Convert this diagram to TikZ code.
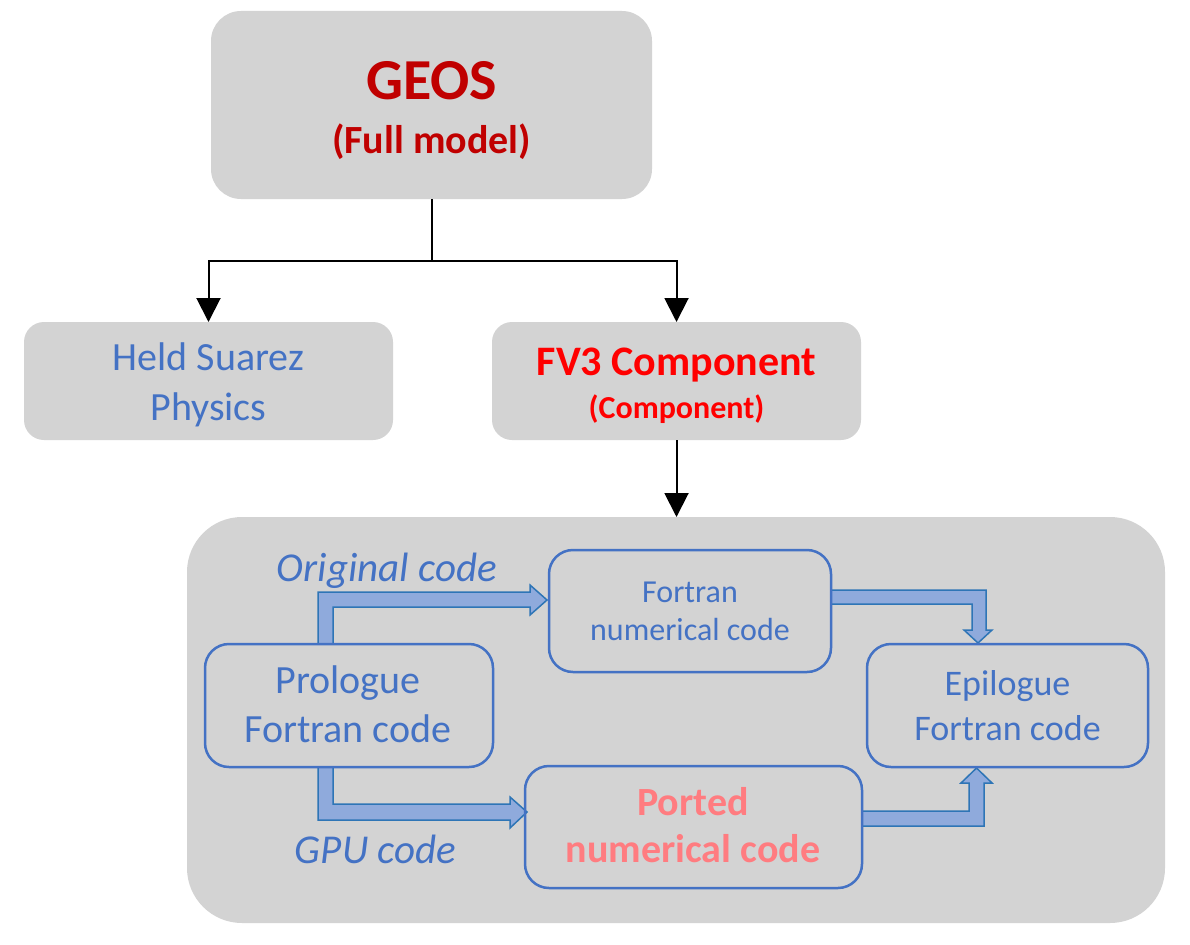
\documentclass[tikz,border=0pt]{standalone}
\usepackage{fontspec}
\setmainfont{Carlito}
\usetikzlibrary{arrows.meta,calc}
\definecolor{boxgray}{HTML}{D3D3D3}
\definecolor{txtblue}{HTML}{4472C4}
\definecolor{arrfill}{HTML}{8FAADC}
\definecolor{arrline}{HTML}{2E75B6}
\definecolor{geosred}{HTML}{C00000}
\definecolor{fvred}{HTML}{FF0000}
\definecolor{portred}{HTML}{FF7C80}
\begin{document}
\begin{tikzpicture}[x=1pt,y=-1pt,
  graybox/.style={fill=boxgray, draw=none, inner sep=0pt, outer sep=0pt},
  codebox/.style={draw=txtblue, line width=2.5pt, rounded corners=24pt, inner sep=0pt, outer sep=0pt},
  txt/.style={anchor=base, inner sep=0pt, outer sep=0pt},
  conn/.style={draw=black, line width=2pt, -{Triangle[width=24pt,length=24pt]}},
  barrow/.style={fill=arrfill, draw=arrline, line width=1.5pt, line join=miter},
]
\useasboundingbox (0,0) rectangle (1190,944);

% top level boxes
\node[graybox, rounded corners=30pt, minimum width=441pt, minimum height=188pt] (geos) at (431.5,105) {};
\node[graybox, rounded corners=20pt, minimum width=369pt, minimum height=118pt] (held) at (208.5,381) {};
\node[graybox, rounded corners=20pt, minimum width=369pt, minimum height=118pt] (fv3) at (676.5,381) {};
\node[graybox, rounded corners=55pt, minimum width=978pt, minimum height=406pt] (cont) at (676,720) {};

% texts top
\node[txt, font=\bfseries\fontsize{58}{60}\selectfont, text=geosred] (geost) at (431.5,100) {GEOS};
\node[txt, font=\bfseries\fontsize{40}{44}\selectfont, text=geosred] (geosst) at (431.5,154) {(Full model)};
\node[txt, font=\fontsize{40}{44}\selectfont, text=txtblue] (helda) at (208.5,370) {Held Suarez};
\node[txt, font=\fontsize{40}{44}\selectfont, text=txtblue] (heldb) at (208.5,420) {Physics};
\node[txt, font=\bfseries\fontsize{42}{44}\selectfont, text=fvred] (fva) at (676.5,375) {FV3 Component};
\node[txt, font=\bfseries\fontsize{32}{34}\selectfont, text=fvred] (fvb) at (676.5,418) {(Component)};

% connectors
\draw[line width=2pt] (geos.south) -- ++(0,62) coordinate (split);
\draw[conn] (split) -| (held.north);
\draw[conn] (split) -| (fv3.north);
\draw[conn] (fv3.south) -- (fv3.south |- cont.north);

% block arrows
\draw[barrow] (318,644) -- (318,592) -- (530,592) -- (530,585) -- (547,600) -- (530,615) -- (530,607) -- (333,607) -- (333,644) -- cycle;
\draw[barrow] (318,767) -- (318,820) -- (510,820) -- (510,828) -- (527,812) -- (510,797) -- (510,804) -- (333,804) -- (333,767) -- cycle;
\draw[barrow] (831,590) -- (986,590) -- (986,630) -- (992,630) -- (978,643) -- (964,630) -- (972,630) -- (972,604) -- (831,604) -- cycle;
\draw[barrow] (862,826) -- (862,811) -- (969,811) -- (969,783) -- (961,783) -- (976.5,768) -- (992,783) -- (984,783) -- (984,826) -- cycle;

% inner boxes
\node[codebox, minimum width=288pt, minimum height=123pt] (pro) at (349,705.5) {};
\node[codebox, minimum width=282pt, minimum height=122pt] (fnum) at (690,611) {};
\node[codebox, minimum width=281pt, minimum height=123pt] (epi) at (1007.5,705.5) {};
\node[codebox, minimum width=337pt, minimum height=122pt] (port) at (693.5,827) {};

% inner texts
\node[txt, font=\fontsize{40}{44}\selectfont, text=txtblue] (proa) at (348,693) {Prologue};
\node[txt, font=\fontsize{40}{44}\selectfont, text=txtblue] (prob) at (348,742) {Fortran code};
\node[txt, font=\fontsize{32}{34}\selectfont, text=txtblue] (fnuma) at (690,602) {Fortran};
\node[txt, font=\fontsize{32}{34}\selectfont, text=txtblue] (fnumb) at (690,640) {numerical code};
\node[txt, font=\fontsize{36}{40}\selectfont, text=txtblue] (epia) at (1007.5,695) {Epilogue};
\node[txt, font=\fontsize{36}{40}\selectfont, text=txtblue] (epib) at (1007.5,740) {Fortran code};
\node[txt, font=\bfseries\fontsize{40}{44}\selectfont, text=portred] (porta) at (693,815) {Ported};
\node[txt, font=\bfseries\fontsize{40}{44}\selectfont, text=portred] (portb) at (693,862) {numerical code};

% arrow labels
\node[txt, font=\itshape\fontsize{41}{44}\selectfont, text=txtblue] (orig) at (387,581) {Original code};
\node[txt, font=\itshape\fontsize{41}{44}\selectfont, text=txtblue] (gpu) at (375.5,863) {GPU code};
\end{tikzpicture}
\end{document}
